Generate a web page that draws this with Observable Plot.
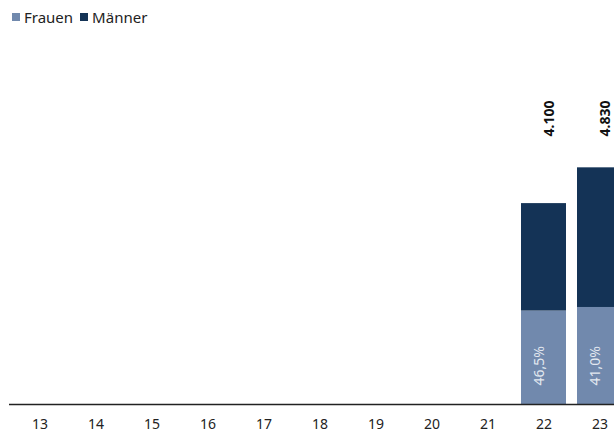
<!DOCTYPE html>
<html><head><meta charset="utf-8">
<script src="https://cdn.jsdelivr.net/npm/d3@7"></script>
<script src="https://cdn.jsdelivr.net/npm/@observablehq/plot@0.6"></script>
<style>
html,body{margin:0;padding:0;background:#fff;overflow:hidden;width:614px;height:434px;}
#legend{height:30px;font-family:"Noto Sans",sans-serif;font-size:15px;color:#222;display:flex;align-items:center;padding-left:12px;box-sizing:border-box;padding-top:4px}
#legend span.sw{display:inline-block;width:8px;height:8px;margin-right:4px}
#legend span.it{display:inline-flex;align-items:center;margin-right:7px}
#chart{width:614px;overflow:hidden}
#chart svg{max-width:none !important;display:block}
</style></head>
<body>
<div id="legend"></div>
<div id="chart"></div>
<script>
const years = ["13","14","15","16","17","18","19","20","21","22","23"];
const barYears = ["22","23"];
const frauen = [1907, 1980];
const maenner = [2193, 2850];
const totals = [4100, 4830];
const shares = ["46,5%", "41,0%"];
const seriesNames = ["Frauen", "Männer"];
const colors = ["#7189ad", "#143356"];

const legend = document.getElementById("legend");
seriesNames.forEach((n, i) => {
  const s = document.createElement("span"); s.className = "it";
  s.innerHTML = `<span class="sw" style="background:${colors[i]}"></span>${n}`;
  legend.appendChild(s);
});

const rows = [];
barYears.forEach((y, i) => {
  rows.push({year: y, series: "Frauen", value: frauen[i]});
  rows.push({year: y, series: "Männer", value: maenner[i]});
});
const labelRows = barYears.map((y, i) => ({year: y, total: totals[i], share: shares[i]}));

const fmt = v => d3.format(",")(v).replace(/,/g, ".");

const chart = Plot.plot({
  width: 631, height: 404,
  marginLeft: 9, marginRight: 0, marginTop: 80, marginBottom: 30,
  style: {fontFamily: "Noto Sans, sans-serif", fontSize: "14px", color: "#222", background: "#fff", maxWidth: "none"},
  x: {type: "band", domain: years, paddingInner: 0.19, paddingOuter: 0.095, label: null, tickSize: 0, tickPadding: 15},
  y: {domain: [0, 6000], axis: null},
  color: {domain: seriesNames, range: colors},
  marks: [
    Plot.barY(rows, Plot.stackY({x: "year", y: "value", fill: "series", order: seriesNames})),
    Plot.ruleY([0], {stroke: "#222", strokeWidth: 1.3}),
    Plot.text(labelRows, {x: "year", frameAnchor: "top", dy: 8, text: d => fmt(d.total), rotate: -90, fontWeight: "bold", fontSize: 14, fill: "#111"}),
    Plot.text(labelRows, {x: "year", frameAnchor: "bottom", dy: -19, text: "share", rotate: -90, textAnchor: "start", fontSize: 14, fill: "#e2e8f0"})
  ]
});
document.getElementById("chart").appendChild(chart);
</script>
</body></html>
